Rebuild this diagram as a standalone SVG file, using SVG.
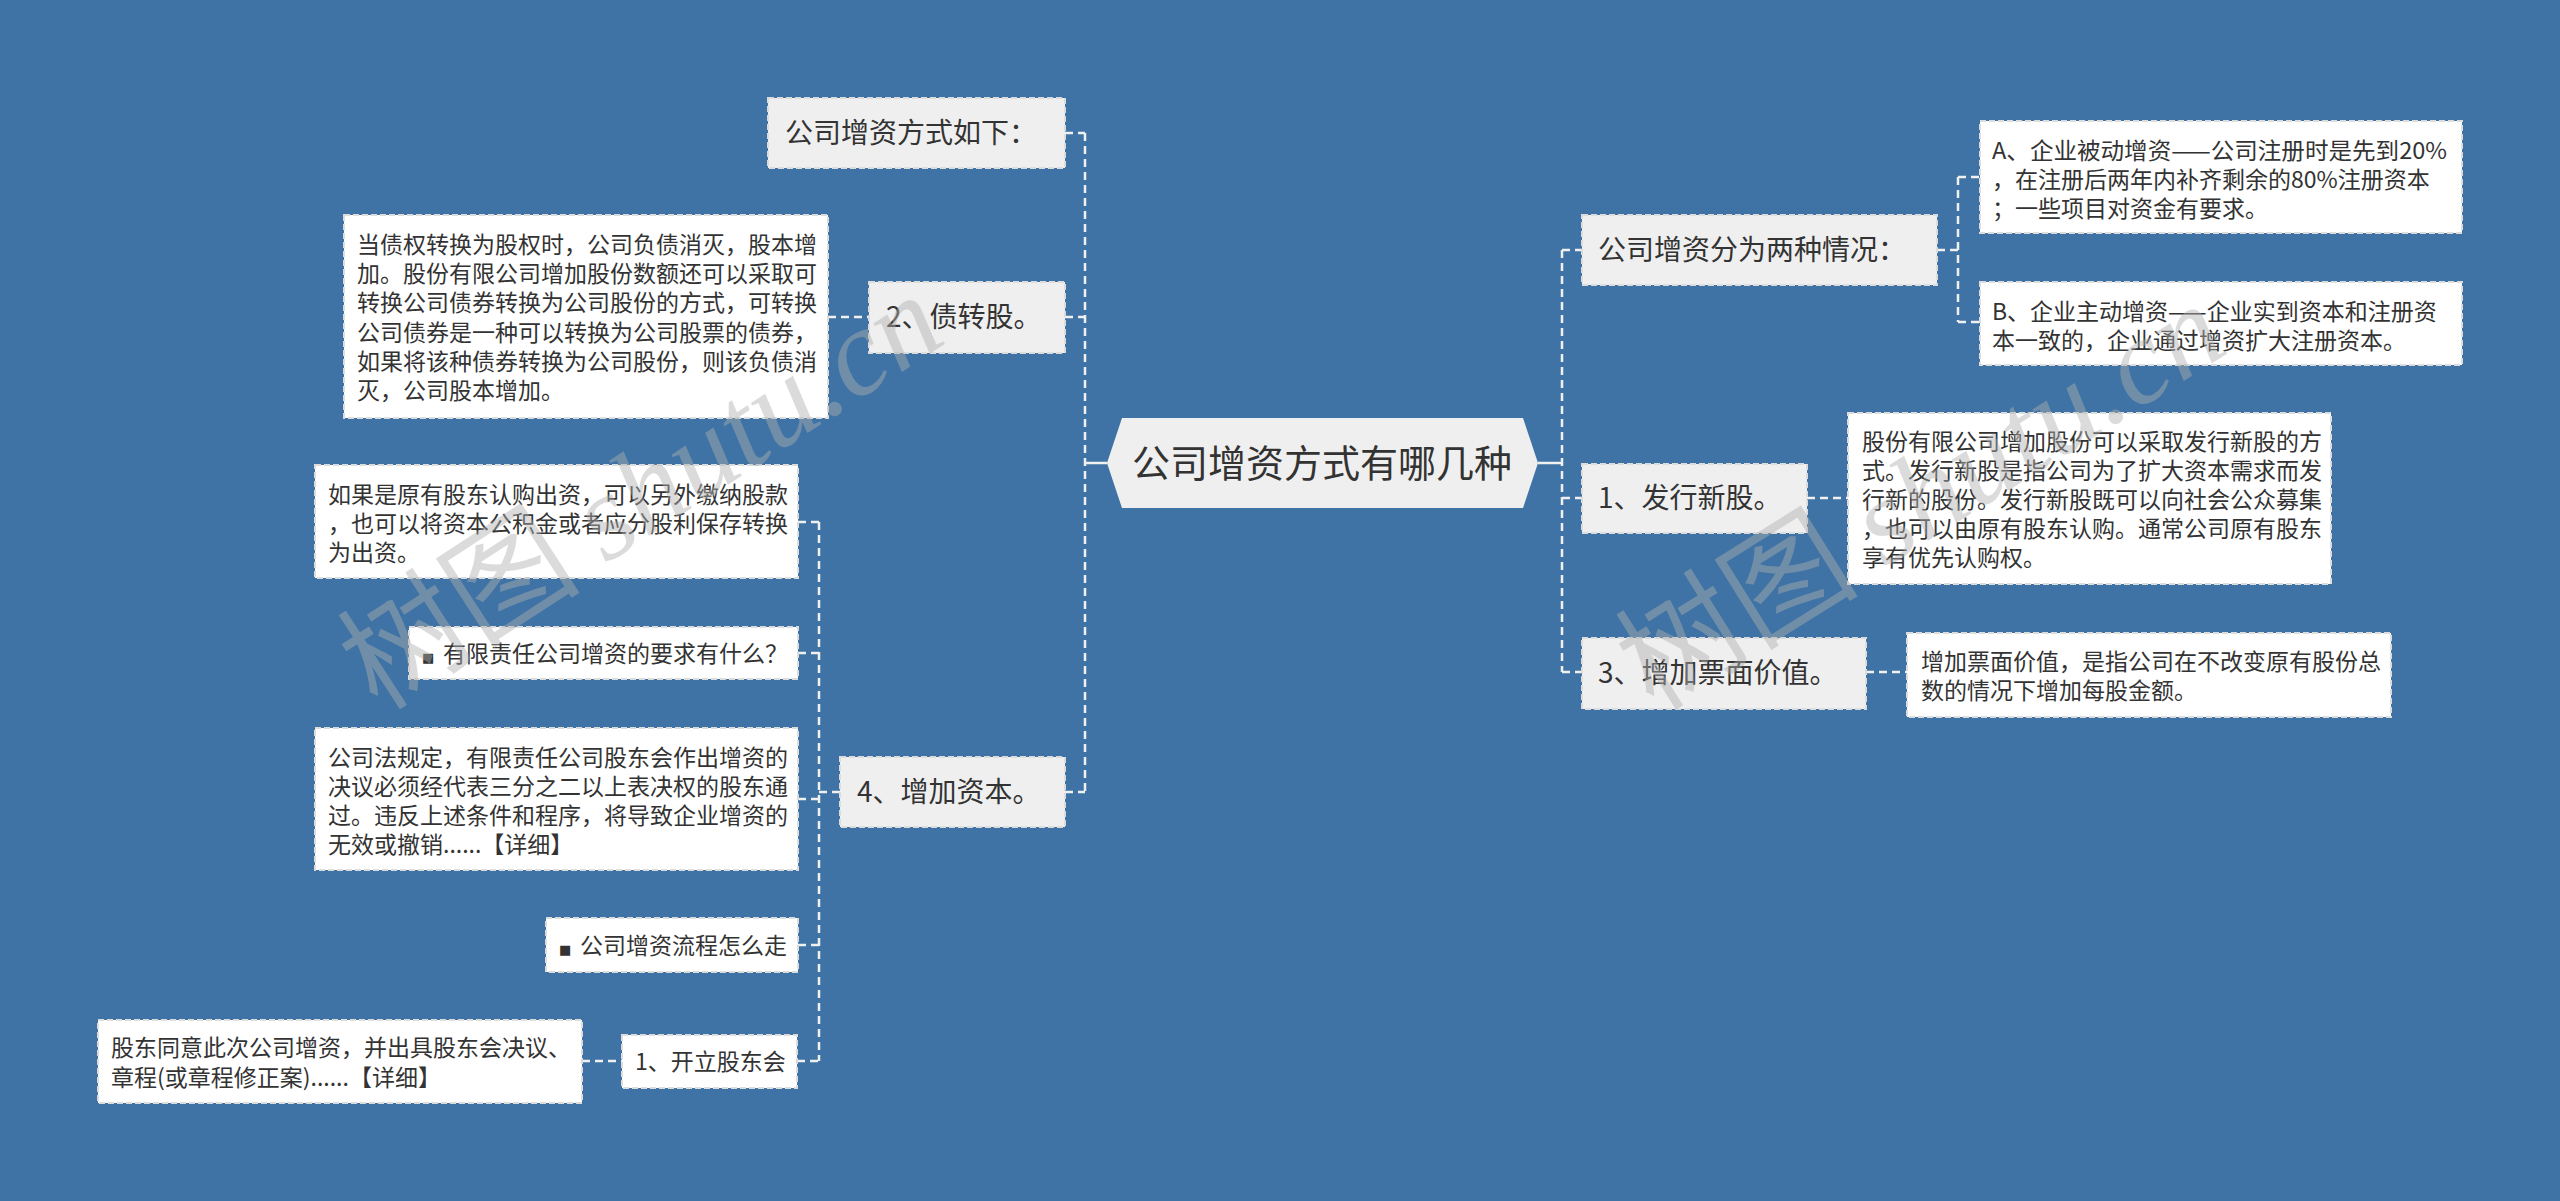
<svg xmlns="http://www.w3.org/2000/svg" width="2560" height="1201" viewBox="0 0 2560 1201">
<style>
  text { font-family: 'Noto Sans CJK SC', 'Microsoft YaHei', sans-serif; fill: #333333; }
  .l2 { fill: #efefef; stroke: #dcdcdc; stroke-width: 2; stroke-dasharray: 6 3; }
  .dt { fill: #ffffff; stroke: #dcdcdc; stroke-width: 2; stroke-dasharray: 6 3; }
  .t2 { font-size: 28px; }
  .td { font-size: 23px; }
  .conn line { stroke: #f0f0f0; stroke-width: 2.5; stroke-dasharray: 8 5; fill: none; }
  .solid { stroke: #f0f0f0; stroke-width: 2.5; }
  .wm { font-size: 122px; fill: #b0b0b0; fill-opacity: 0.45; }
  .wm tspan.en { font-family: 'Liberation Serif', serif; font-style: italic; }
  .bul { font-family: 'DejaVu Sans', sans-serif; font-size: 13px; }
</style>
<rect x="0" y="0" width="2560" height="1201" fill="#3f73a5"/>

<g id="connectors" class="conn">
  <line x1="1085" y1="133" x2="1085" y2="792"/>
  <line x1="1065" y1="133" x2="1085" y2="133"/>
  <line x1="1065" y1="317" x2="1085" y2="317"/>
  <line x1="1065" y1="792" x2="1085" y2="792"/>
  <line x1="828" y1="317" x2="869" y2="317"/>
  <line x1="819" y1="522" x2="819" y2="1061"/>
  <line x1="819" y1="792" x2="840" y2="792"/>
  <line x1="798" y1="522" x2="819" y2="522"/>
  <line x1="798" y1="653" x2="819" y2="653"/>
  <line x1="798" y1="799" x2="819" y2="799"/>
  <line x1="798" y1="945" x2="819" y2="945"/>
  <line x1="797" y1="1061" x2="819" y2="1061"/>
  <line x1="582" y1="1061" x2="622" y2="1061"/>
  <line x1="1562" y1="250" x2="1562" y2="672"/>
  <line x1="1562" y1="250" x2="1582" y2="250"/>
  <line x1="1562" y1="498" x2="1582" y2="498"/>
  <line x1="1562" y1="672" x2="1582" y2="672"/>
  <line x1="1937" y1="250" x2="1958" y2="250"/>
  <line x1="1958" y1="177" x2="1958" y2="322"/>
  <line x1="1958" y1="177" x2="1980" y2="177"/>
  <line x1="1958" y1="322" x2="1980" y2="322"/>
  <line x1="1807" y1="498" x2="1848" y2="498"/>
  <line x1="1866" y1="672" x2="1907" y2="672"/>
  <path class="solid" d="M1085 463 H1107 M1538 463 H1562"/>
</g>

<g id="root">
  <polygon points="1107,463 1122,418 1523,418 1538,463 1523,508 1122,508" fill="#efefef"/>
  <text x="1322" y="477" font-size="38" text-anchor="middle">公司增资方式有哪几种</text>
</g>

<g id="n-fangshi">
  <rect class="l2" x="768" y="98" width="297" height="70"/>
  <text class="t2" x="785" y="143">公司增资方式如下：</text>
</g>

<g id="n-zhaizhuangu">
  <rect class="l2" x="869" y="282" width="196" height="71"/>
  <text class="t2" x="886" y="327">2、债转股。</text>
</g>

<g id="d-zhaizhuangu">
  <rect class="dt" x="344" y="215" width="484" height="203"/>
  <text class="td" x="357" y="253">当债权转换为股权时，公司负债消灭，股本增</text>
  <text class="td" x="357" y="282">加。股份有限公司增加股份数额还可以采取可</text>
  <text class="td" x="357" y="311">转换公司债券转换为公司股份的方式，可转换</text>
  <text class="td" x="357" y="341">公司债券是一种可以转换为公司股票的债券，</text>
  <text class="td" x="357" y="370">如果将该种债券转换为公司股份，则该负债消</text>
  <text class="td" x="357" y="399">灭，公司股本增加。</text>
</g>

<g id="n-zengjiaziben">
  <rect class="l2" x="840" y="757" width="225" height="70"/>
  <text class="t2" x="857" y="802">4、增加资本。</text>
</g>

<g id="c-rengou">
  <rect class="dt" x="315" y="465" width="483" height="113"/>
  <text class="td" x="328" y="503">如果是原有股东认购出资，可以另外缴纳股款</text>
  <text class="td" x="328" y="532">，也可以将资本公积金或者应分股利保存转换</text>
  <text class="td" x="328" y="561">为出资。</text>
</g>

<g id="c-yaoqiu">
  <rect class="dt" x="409" y="627" width="389" height="52"/>
  <text class="td" x="422" y="662"><tspan class="bul">■</tspan><tspan x="443">有限责任公司增资的要求有什么？</tspan></text>
</g>

<g id="c-guiding">
  <rect class="dt" x="315" y="728" width="483" height="142"/>
  <text class="td" x="328" y="766">公司法规定，有限责任公司股东会作出增资的</text>
  <text class="td" x="328" y="795">决议必须经代表三分之二以上表决权的股东通</text>
  <text class="td" x="328" y="824">过。违反上述条件和程序，将导致企业增资的</text>
  <text class="td" x="328" y="853">无效或撤销......【详细】</text>
</g>

<g id="c-liucheng">
  <rect class="dt" x="546" y="918" width="252" height="54"/>
  <text class="td" x="559" y="954"><tspan class="bul">■</tspan><tspan x="580">公司增资流程怎么走</tspan></text>
</g>

<g id="c-gudonghui">
  <rect class="dt" x="622" y="1035" width="175" height="53"/>
  <text class="td" x="635" y="1070">1、开立股东会</text>
</g>

<g id="d-gudonghui">
  <rect class="dt" x="98" y="1020" width="484" height="83"/>
  <text class="td" x="111" y="1056">股东同意此次公司增资，并出具股东会决议、</text>
  <text class="td" x="111" y="1086">章程(或章程修正案)......【详细】</text>
</g>

<g id="n-liangzhong">
  <rect class="l2" x="1582" y="215" width="355" height="70"/>
  <text class="t2" x="1598" y="260">公司增资分为两种情况：</text>
</g>

<g id="d-beidong">
  <rect class="dt" x="1980" y="121" width="482" height="112"/>
  <text class="td" x="1992" y="159" textLength="455" lengthAdjust="spacingAndGlyphs">A、企业被动增资——公司注册时是先到20%</text>
  <text class="td" x="1992" y="188">，在注册后两年内补齐剩余的80%注册资本</text>
  <text class="td" x="1992" y="217">；一些项目对资金有要求。</text>
</g>

<g id="d-zhudong">
  <rect class="dt" x="1980" y="282" width="482" height="83"/>
  <text class="td" x="1992" y="320">B、企业主动增资——企业实到资本和注册资</text>
  <text class="td" x="1992" y="349">本一致的，企业通过增资扩大注册资本。</text>
</g>

<g id="n-faxing">
  <rect class="l2" x="1582" y="464" width="225" height="69"/>
  <text class="t2" x="1598" y="508">1、发行新股。</text>
</g>

<g id="d-faxing">
  <rect class="dt" x="1848" y="413" width="483" height="171"/>
  <text class="td" x="1862" y="450">股份有限公司增加股份可以采取发行新股的方</text>
  <text class="td" x="1862" y="479">式。发行新股是指公司为了扩大资本需求而发</text>
  <text class="td" x="1862" y="508">行新的股份。发行新股既可以向社会公众募集</text>
  <text class="td" x="1862" y="537">，也可以由原有股东认购。通常公司原有股东</text>
  <text class="td" x="1862" y="566">享有优先认购权。</text>
</g>

<g id="n-piaomian">
  <rect class="l2" x="1582" y="638" width="284" height="71"/>
  <text class="t2" x="1598" y="683">3、增加票面价值。</text>
</g>

<g id="d-piaomian">
  <rect class="dt" x="1907" y="633" width="484" height="84"/>
  <text class="td" x="1921" y="670">增加票面价值，是指公司在不改变原有股份总</text>
  <text class="td" x="1921" y="699">数的情况下增加每股金额。</text>
</g>

<g id="watermarks">
  <text class="wm" transform="translate(378,712) rotate(-33)">树图 <tspan class="en">shutu.cn</tspan></text>
  <text class="wm" transform="translate(1654,712) rotate(-32)">树图 <tspan class="en">shutu.cn</tspan></text>
</g>
</svg>
